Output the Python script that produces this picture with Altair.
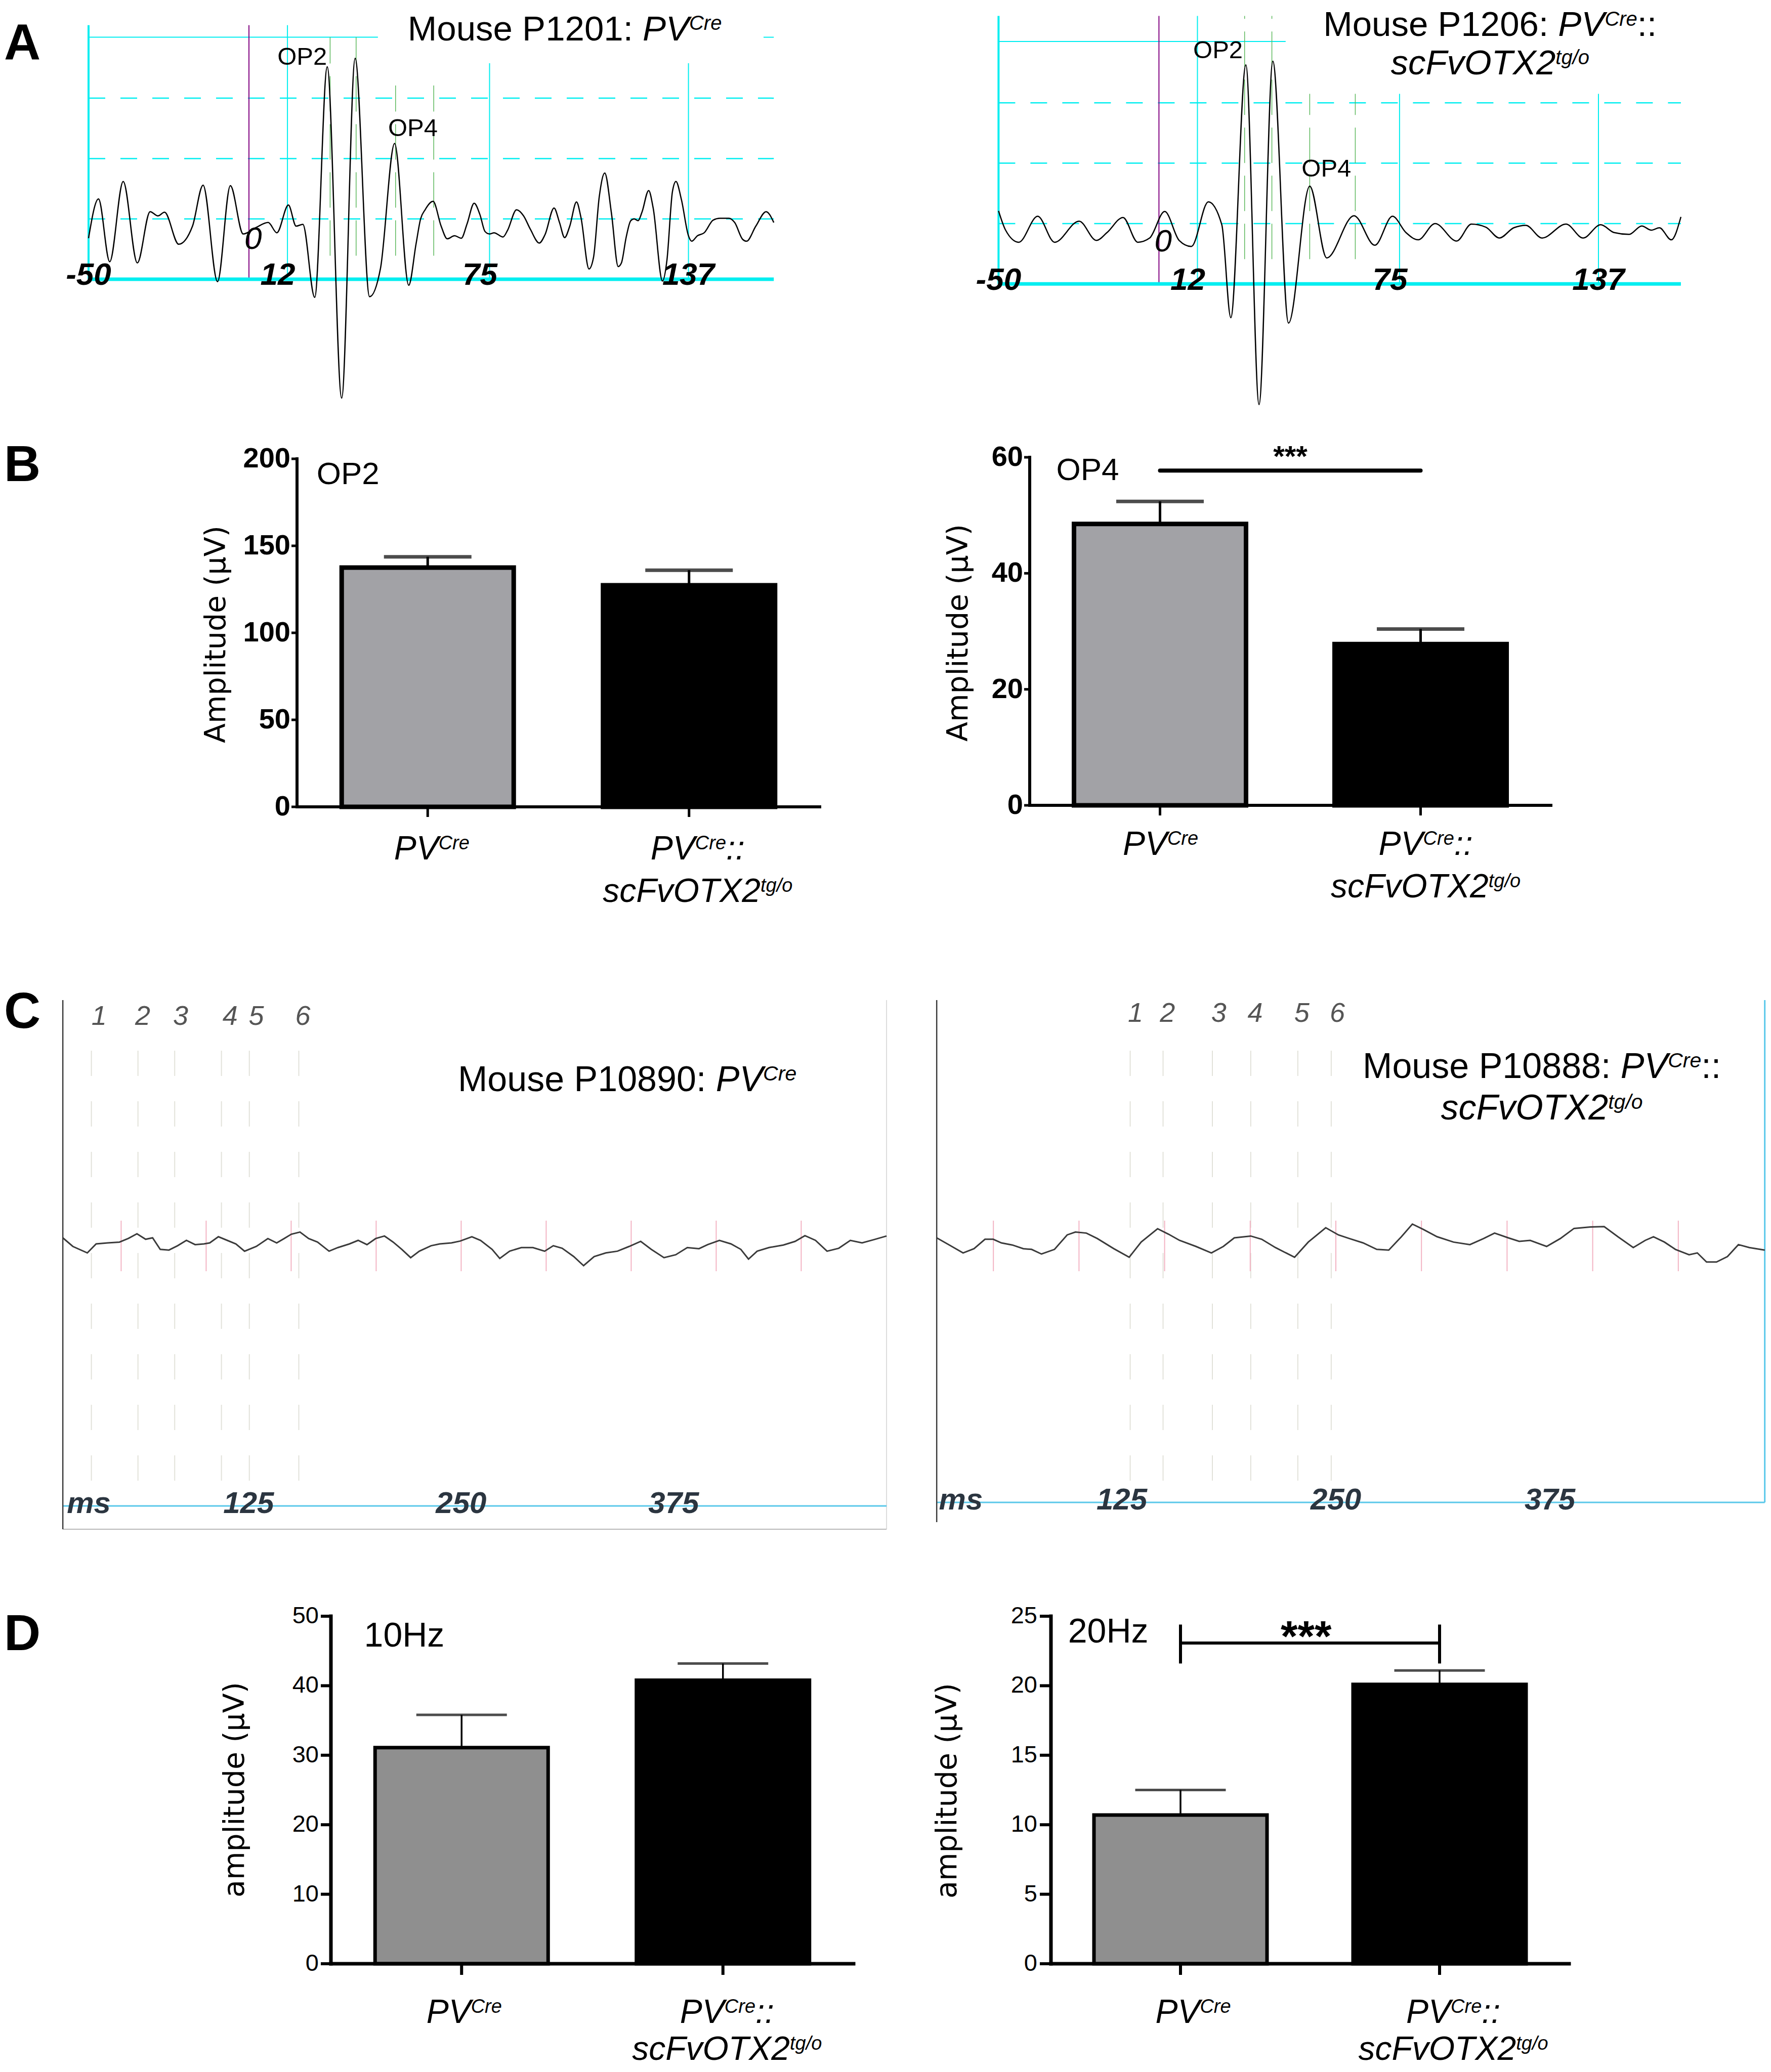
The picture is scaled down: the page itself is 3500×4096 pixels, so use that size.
import altair as alt
import pandas as pd

# ------------------------------------------------------------------ fonts / colours
SANS = "Liberation Sans, Arial, Helvetica, sans-serif"
NARROW = "Liberation Sans Narrow, Arial Narrow, Liberation Sans, sans-serif"
WIDE = "DejaVu Sans, Verdana, sans-serif"
CYAN = "#00eef0"
LIGHTBLUE = "#5ac8ea"

# ------------------------------------------------------------------ data
# A : ERG traces (time in ms, amplitude in grid units: dashed lines = 100, 200, 300)
A1_TRACE = [(-50.0, 68), (-46.9, 133), (-43.4, 29), (-39.2, 162), (-34.8, 27), (-30.8, 112), (-28.4, 105),
            (-26.3, 111), (-21.9, 58), (-17.6, 88), (-14.3, 156), (-9.8, -4), (-5.8, 155), (-1.8, 75), (2.3, 86),
            (6.0, 94), (8.7, 77), (12.3, 123), (14.7, 88), (16.8, 91), (20.5, -30), (24.4, 352), (28.9, -197),
            (33.1, 366), (37.6, -29), (41.0, 18), (45.4, 225), (49.8, -10), (52.1, 59), (53.5, 100), (54.9, 115),
            (57.4, 129), (59.9, 88), (61.8, 67), (64.1, 72), (66.2, 68), (68.0, 92), (70.2, 126), (72.0, 107),
            (73.6, 79), (75.0, 75), (76.4, 77), (79.2, 70), (80.6, 81), (83.4, 115), (85.6, 105), (87.7, 83),
            (90.5, 60), (92.3, 74), (95.1, 118), (96.8, 94), (98.4, 69), (100.0, 88), (102.1, 128), (103.5, 102),
            (106.0, 17), (107.4, 36), (109.2, 137), (110.9, 176), (113.0, 109), (115.1, 21), (116.1, 27),
            (117.6, 70), (119.0, 97), (120.1, 100), (121.3, 97), (122.5, 111), (124.6, 147), (126.0, 118),
            (128.9, -3), (130.3, 32), (132.0, 145), (133.1, 162), (134.8, 132), (137.0, 72), (138.0, 63),
            (139.8, 72), (141.9, 77), (144.7, 98), (146.8, 101), (149.6, 101), (151.4, 94), (153.9, 66),
            (155.1, 63), (158.0, 88), (161.2, 112), (163.6, 94)]
A2_TRACE = [(-50.0, 121), (-47.8, 89), (-43.7, 69), (-37.8, 112), (-32.5, 69), (-24.9, 104), (-19.5, 72),
            (-16.2, 85), (-11.2, 110), (-6.6, 69), (-2.9, 76), (1.8, 120), (6.3, 72), (10.1, 62), (15.4, 136),
            (19.6, 98), (22.4, -56), (27.1, 363), (31.2, -200), (35.5, 369), (40.4, -65), (47.0, 162), (52.3, 43),
            (60.8, 113), (67.3, 64), (72.8, 112), (77.0, 85), (80.8, 73), (86.1, 100), (92.8, 71), (97.4, 99),
            (101.9, 94), (106.1, 76), (110.6, 93), (114.4, 97), (119.4, 76), (126.9, 99), (132.2, 76),
            (137.7, 98), (141.9, 85), (146.5, 82), (150.5, 96), (153.5, 89), (156.0, 93), (159.7, 73),
            (162.7, 111)]
A_TICKS = [-50, 12, 75, 137]
A_TICK_LABELS = ["-50", "12", "75", "137"]
A_TICK_LABEL_POS = [-50, 9, 72, 137]
A_GRID = [100, 200, 300]
A1_OP_LINES = [25.3, 33.4, 45.7, 57.6]
A2_OP_LINES = [26.7, 35.2, 47.0, 61.2]

# B : oscillatory potential amplitudes (µV), mean and SEM
B_OP2_MEAN = [137.5, 127.3]
B_OP2_SEM = [6.2, 8.7]
B_OP4_MEAN = [48.5, 27.8]
B_OP4_SEM = [3.9, 2.6]
B_OP2_TICKS = [0, 50, 100, 150, 200]
B_OP4_TICKS = [0, 20, 40, 60]

# C : flicker traces (ms, µV)
C1_TRACE = [(15.7, 8.0), (21.6, -0.5), (30.1, -6.9), (35.3, 2.0), (42.1, 3.0), (49.0, 3.8), (54.1, 7.3),
            (59.3, 12.0), (64.4, 6.6), (68.5, 8.0), (73.0, -3.4), (78.1, -4.1), (83.2, 0.2), (88.4, 5.5),
            (93.5, 1.3), (98.7, 2.0), (102.1, 3.0), (107.2, 9.1), (112.4, 5.5), (117.5, 2.0), (122.6, -5.2),
            (129.5, -0.5), (136.3, 7.3), (141.5, 3.0), (145.9, 7.3), (150.1, 11.6), (155.2, 13.7), (160.3, 7.3),
            (165.5, 3.8), (172.3, -5.2), (177.5, -1.6), (184.3, 2.0), (189.4, 5.5), (194.6, 1.3), (199.7, 7.3),
            (204.9, 9.8), (210.0, 3.8), (215.1, -3.4), (220.3, -11.6), (225.4, -5.2), (232.3, 0.2), (237.4, 2.0),
            (244.3, 3.0), (249.4, 4.8), (256.3, 9.1), (261.4, 5.5), (268.2, -3.4), (272.7, -12.3), (278.5, -5.2),
            (285.4, -1.6), (292.2, -1.6), (299.1, -5.2), (304.2, 0.2), (309.4, -2.3), (316.2, -10.5),
            (322.0, -19.5), (328.2, -10.5), (335.1, -6.9), (341.9, -5.2), (348.8, -0.5), (355.6, 4.5),
            (361.8, -3.4), (369.3, -11.6), (376.2, -8.7), (383.0, -1.6), (389.9, -2.7), (395.0, 1.3),
            (401.9, 5.5), (408.7, 2.0), (414.5, -3.4), (419.0, -13.0), (424.1, -5.2), (431.0, -1.6),
            (439.5, 0.9), (446.4, 4.5), (452.2, 10.2), (458.4, 5.5), (465.2, -5.2), (472.1, -2.3), (478.9, 5.5),
            (485.8, 3.0), (492.7, 6.2), (500.2, 9.8)]
C2_TRACE = [(16.9, 8.0), (24.3, 0.9), (32.3, -6.9), (38.7, -2.7), (45.1, 6.6), (49.9, 6.6), (54.7, 3.0),
            (61.1, 0.9), (67.5, -2.7), (72.3, -3.4), (78.1, -8.0), (85.7, -3.4), (93.1, 10.9), (97.9, 13.7),
            (104.3, 12.7), (110.7, 7.3), (120.3, -2.7), (129.3, -11.2), (136.3, 3.8), (145.9, 17.0),
            (152.3, 11.6), (158.7, 5.5), (168.3, -0.5), (177.3, -6.9), (184.3, -0.5), (190.7, 8.0), (200.3, 9.8),
            (206.7, 6.6), (214.7, -1.6), (225.9, -11.2), (233.9, 3.8), (244.1, 18.0), (251.5, 10.9), (257.9, 7.3),
            (265.9, 3.0), (273.9, -3.4), (280.9, -4.1), (288.3, 9.1), (294.7, 21.6), (301.1, 16.3), (309.1, 9.1),
            (318.7, 3.8), (328.3, 1.3), (336.3, 7.3), (342.7, 12.7), (350.7, 8.0), (357.1, 4.5), (363.5, 5.5),
            (373.1, -0.5), (381.1, 7.3), (389.1, 17.3), (398.7, 18.7), (406.7, 19.1), (414.7, 9.1),
            (423.7, -1.6), (430.7, 5.5), (435.5, 9.1), (441.9, 3.8), (448.3, -3.4), (456.3, -8.7), (461.1, -6.9),
            (466.5, -15.9), (472.3, -15.9), (478.7, -10.5), (485.1, 1.3), (491.5, -1.6), (500.5, -4.1)]
C_TICK_POS = [31, 125, 250, 375]
C_TICK_LABELS = ["ms", "125", "250", "375"]
C_MARKS = [50, 100, 150, 200, 250, 300, 350, 400, 450]
STIM_LABELS = ["1", "2", "3", "4", "5", "6"]
C1_STIM = [32.5, 59.9, 81.5, 109.0, 125.4, 154.5]
C1_STIM_LABEL_POS = [37.0, 62.7, 85.0, 114.1, 129.5, 156.9]
C2_STIM = [129.9, 149.1, 177.9, 200.3, 227.8, 247.3]
C2_STIM_LABEL_POS = [133.0, 151.7, 181.7, 202.9, 230.1, 250.9]

# D : flicker amplitudes (µV), mean and SEM
D_10_MEAN = [31.1, 40.8]
D_10_SEM = [4.7, 2.4]
D_20_MEAN = [10.7, 20.1]
D_20_SEM = [1.8, 1.0]
D_10_TICKS = [0, 10, 20, 30, 40, 50]
D_20_TICKS = [0, 5, 10, 15, 20, 25]

# rich-text labels: (text, kind) with kind n = normal, i = italic, s = italic superscript
GROUP_LABELS = [
    [[("PV", "i"), ("Cre", "s")]],
    [[("PV", "i"), ("Cre", "s"), ("::", "i")], [("scFvOTX2", "i"), ("tg/o", "s")]],
]
A1_TITLE = [[("Mouse P1201: ", "n"), ("PV", "i"), ("Cre", "s")]]
A2_TITLE = [[("Mouse P1206: ", "n"), ("PV", "i"), ("Cre", "s"), ("::", "n")],
            [("scFvOTX2", "i"), ("tg/o", "s")]]
C1_TITLE = [[("Mouse P10890: ", "n"), ("PV", "i"), ("Cre", "s")]]
C2_TITLE = [[("Mouse P10888: ", "n"), ("PV", "i"), ("Cre", "s"), ("::", "n")],
            [("scFvOTX2", "i"), ("tg/o", "s")]]

# ------------------------------------------------------------------ helpers
AW = {' ': 278, ':': 278, '/': 278, '*': 389, '-': 333, '(': 333, ')': 333,
      'C': 722, 'F': 611, 'M': 833, 'O': 778, 'P': 667, 'T': 611, 'V': 667, 'X': 667, 'H': 722,
      'c': 500, 'e': 556, 'g': 556, 'o': 556, 'r': 333, 's': 500, 't': 278, 'u': 556, 'v': 500, 'z': 500}


def text_w(s, size):
    return sum(AW.get(ch, 556) for ch in s) * size / 1000.0


def lin(v0, p0, v1, p1, origin):
    return alt.Scale(domain=[v0, v1], range=[p0 - origin, p1 - origin], nice=False, zero=False)


def XY(sx, sy, xf="x", yf="y"):
    return dict(x=alt.X(f"{xf}:Q", scale=sx, axis=None), y=alt.Y(f"{yf}:Q", scale=sy, axis=None))


def vrule(sx, sy, xs, y1, y2, **mk):
    n = len(xs)
    df = pd.DataFrame({"x": xs, "y1": y1 if isinstance(y1, list) else [y1] * n,
                       "y2": y2 if isinstance(y2, list) else [y2] * n})
    return alt.Chart(df).mark_rule(clip=True, **mk).encode(
        x=alt.X("x:Q", scale=sx, axis=None), y=alt.Y("y1:Q", scale=sy, axis=None), y2="y2:Q")


def hrule(sx, sy, ys, x1, x2, **mk):
    n = len(ys)
    df = pd.DataFrame({"y": ys, "x1": x1 if isinstance(x1, list) else [x1] * n,
                       "x2": x2 if isinstance(x2, list) else [x2] * n})
    return alt.Chart(df).mark_rule(clip=True, **mk).encode(
        x=alt.X("x1:Q", scale=sx, axis=None), x2="x2:Q", y=alt.Y("y:Q", scale=sy, axis=None))


def texts(sx, sy, xs, ys, labels, **mk):
    n = len(labels)
    df = pd.DataFrame({"x": xs if isinstance(xs, list) else [xs] * n,
                       "y": ys if isinstance(ys, list) else [ys] * n, "t": labels})
    return alt.Chart(df).mark_text(clip=True, **mk).encode(text="t:N", **XY(sx, sy))


def rich(sx, sy, x, y, lines, size, anchor="left", dx0=0.0, dy0=0.0, gap=84, color="black", font=SANS):
    df = pd.DataFrame({"x": [x], "y": [y]})
    sup = round(size * 0.58)
    rise = 0.716 * (size - sup)
    out = []
    for li, segs in enumerate(lines):
        sizes = [sup if k == "s" else size for _, k in segs]
        widths = [text_w(t, s) for (t, _), s in zip(segs, sizes)]
        total = sum(widths)
        cur = dx0 - {"left": 0.0, "center": total / 2.0, "right": total}[anchor]
        for (t, k), s, w in zip(segs, sizes, widths):
            out.append(alt.Chart(df).mark_text(
                text=t, align="left", baseline="alphabetic", font=font, fontSize=s,
                fontStyle="italic" if k in ("i", "s") else "normal", color=color,
                dx=round(cur, 1), dy=round(dy0 + li * gap - (rise if k == "s" else 0.0), 1), clip=True,
            ).encode(**XY(sx, sy)))
            cur += w
    return out


def letter(ch, y):
    return alt.Chart(pd.DataFrame({"t": [ch]})).mark_text(
        align="left", baseline="alphabetic", font=SANS, fontSize=100, fontWeight="bold", color="black"
    ).encode(text="t:N", x=alt.value(0), y=alt.value(y))


# ------------------------------------------------------------------ panel A
def panel_A(X0, Y0, W, H, sx, sy, trace, vtops, ptop, top_segs, top_y, x_end, ops, op_bot, op_tops,
            op2_xy, op4_xy, zero_xy, title, title_xy, anchor, title_gap=84, let=None):
    L = []
    L.append(hrule(sx, sy, A_GRID, -50, x_end, color=CYAN, strokeWidth=2.5, strokeDash=[33, 30]))
    L.append(hrule(sx, sy, [top_y] * len(top_segs), [a for a, _ in top_segs], [b for _, b in top_segs],
                   color=CYAN, strokeWidth=2))
    L.append(vrule(sx, sy, A_TICKS[1:], 0, vtops[1:], color=CYAN, strokeWidth=2))
    L.append(vrule(sx, sy, A_TICKS[:1], 0, vtops[:1], color=CYAN, strokeWidth=4))
    L.append(vrule(sx, sy, ops, op_bot, op_tops, color="#5cb85c", strokeWidth=1.5, strokeDash=[70, 25]))
    L.append(vrule(sx, sy, [0], 0, ptop, color="#800080", strokeWidth=2))
    L.append(hrule(sx, sy, [0], -50, x_end, color=CYAN, strokeWidth=7))
    L.append(alt.Chart(pd.DataFrame(trace, columns=["x", "y"])).mark_line(
        color="black", strokeWidth=2.5, interpolate="monotone", clip=True).encode(**XY(sx, sy)))
    L.append(texts(sx, sy, [op2_xy[0], op4_xy[0]], [op2_xy[1], op4_xy[1]], ["OP2", "OP4"],
                   font=SANS, fontSize=49, align="center", baseline="alphabetic", color="black"))
    L.append(texts(sx, sy, [zero_xy[0]], [zero_xy[1]], ["0"], font=SANS, fontSize=62, fontStyle="italic",
                   align="center", baseline="alphabetic", color="black"))
    L.append(texts(sx, sy, A_TICK_LABEL_POS, -9.5, A_TICK_LABELS, font=SANS, fontSize=62, fontStyle="italic",
                   fontWeight="bold", align="center", baseline="alphabetic", color="black"))
    L += rich(sx, sy, title_xy[0], title_xy[1], title, 69, anchor=anchor, gap=title_gap)
    if let:
        L.append(letter(*let))
    return alt.layer(*L).properties(width=W, height=H)


# ------------------------------------------------------------------ panel B / D (bar charts)
def panel_bar(X0, Y0, W, H, x_left, x_right, y_zero, y_top, top_val, ticks, means, sems, gray, bstroke,
              bar_w, cap_w, cap_t, whisk, axw, ytick, xtick, lab_font, lab_size, lab_weight, lab_pad,
              ytitle, ytitle_xy, ptitle, ptitle_xy, ptitle_size, label_dy, label_shift, extra=None, let=None):
    sx = lin(-0.5, x_left, 1.5, x_right, X0)
    sy = lin(0, y_zero, top_val, y_top, Y0)
    df = pd.DataFrame({"idx": [0, 1], "mean": means, "upper": [m + s for m, s in zip(means, sems)],
                       "fill": [gray, "black"]})
    L = []
    L.append(alt.Chart(df).mark_bar(width=bar_w, stroke="black", strokeWidth=bstroke).encode(
        x=alt.X("idx:Q", scale=sx, axis=None), y=alt.Y("mean:Q", scale=sy, axis=None), y2=alt.datum(0),
        fill=alt.Fill("fill:N", scale=None)))
    L.append(alt.Chart(df).mark_rule(color="black", strokeWidth=whisk).encode(
        x=alt.X("idx:Q", scale=sx, axis=None), y=alt.Y("mean:Q", scale=sy, axis=None), y2="upper:Q"))
    L.append(alt.Chart(df).mark_tick(orient="horizontal", size=cap_w, thickness=cap_t, color="black").encode(
        x=alt.X("idx:Q", scale=sx, axis=None), y=alt.Y("upper:Q", scale=sy, axis=None)))
    # axes: domain lines, ticks, tick labels, title
    L.append(vrule(sx, sy, [-0.5], 0, top_val, color="black", strokeWidth=axw, strokeCap="square"))
    L.append(hrule(sx, sy, [0], -0.5, 1.5, color="black", strokeWidth=axw, strokeCap="square"))
    L.append(hrule(sx, sy, ticks, -0.5, -0.5, color="black", strokeWidth=axw - 1, x2Offset=-ytick))
    L.append(vrule(sx, sy, [0, 1], 0, 0, color="black", strokeWidth=axw - 1, y2Offset=xtick))
    L.append(texts(sx, sy, -0.5, ticks, [str(t) for t in ticks], font=lab_font, fontSize=lab_size,
                   fontWeight=lab_weight, align="right", baseline="middle", dx=-(ytick + lab_pad), color="black"))
    L.append(alt.Chart(pd.DataFrame({"t": [ytitle]})).mark_text(
        font=WIDE, fontSize=57, angle=270, align="center", baseline="middle", color="black").encode(
        text="t:N", x=alt.value(ytitle_xy[0] - X0), y=alt.value(ytitle_xy[1] - Y0)))
    L.append(texts(sx, sy, [ptitle_xy[0]], [ptitle_xy[1]], [ptitle], font=SANS, fontSize=ptitle_size,
                   align="left", baseline="alphabetic", color="black"))
    for i, lines in enumerate(GROUP_LABELS):
        L += rich(sx, sy, i, 0, lines, 66, anchor="center", dx0=label_shift[i], dy0=label_dy[0],
                  gap=label_dy[1] - label_dy[0])
    if extra:
        L += extra(sx, sy)
    if let:
        L.append(letter(*let))
    return alt.layer(*L).properties(width=W, height=H)


# ------------------------------------------------------------------ panel C (flicker traces)
def panel_C(X0, Y0, W, H, sx, sy, trace, x_lo, x_hi, frame_bot, cyan_y, stim, stim_pos, stim_y, tick_y,
            title, title_xy, anchor, right_cyan, let=None):
    L = []
    L.append(vrule(sx, sy, stim, -232, 203.5, color="#e2e2da", strokeWidth=2, strokeDash=[50, 50]))
    L.append(vrule(sx, sy, C_MARKS, -25, 25, color="#f3b3c3", strokeWidth=2))
    if right_cyan:
        L.append(vrule(sx, sy, [x_hi], cyan_y, 243, color=LIGHTBLUE, strokeWidth=3))
    else:
        L.append(vrule(sx, sy, [x_hi], frame_bot, 243, color="#dcdcdc", strokeWidth=2))
        L.append(hrule(sx, sy, [frame_bot], x_lo, x_hi, color="#b8b8b8", strokeWidth=2))
    L.append(hrule(sx, sy, [cyan_y], x_lo, x_hi, color=LIGHTBLUE, strokeWidth=3))
    L.append(vrule(sx, sy, [x_lo], frame_bot, 243, color="#3a3a3a", strokeWidth=2.5))
    L.append(alt.Chart(pd.DataFrame(trace, columns=["x", "y"])).mark_line(
        color="#3a3a3a", strokeWidth=3, clip=True).encode(**XY(sx, sy)))
    L.append(texts(sx, sy, stim_pos, stim_y, STIM_LABELS, font=SANS, fontSize=54, fontStyle="italic",
                   align="center", baseline="alphabetic", color="#555555"))
    L.append(texts(sx, sy, C_TICK_POS, tick_y, C_TICK_LABELS, font=SANS, fontSize=60, fontStyle="italic",
                   fontWeight="bold", align="center", baseline="alphabetic", color="#2b3540"))
    L += rich(sx, sy, title_xy[0], title_xy[1], title, 70, anchor=anchor, gap=82)
    if let:
        L.append(letter(*let))
    return alt.layer(*L).properties(width=W, height=H)


# ------------------------------------------------------------------ layout (cells)
LX, LW = 8, 1792
RX, RW = 1800, 1690
AY, AH = 8, 830
BY, BH = 838, 1070
CY, CH = 1908, 1180
DY, DH = 3088, 998

a_left = panel_A(LX, AY, LW, AH, lin(-50, 175, 137, 1360.6, LX), lin(0, 552, 400, 74.8, AY), A1_TRACE,
                 [421, 421, 358, 358], 421, [(-50, 40.2), (160.4, 163.6)], 401, 163.6,
                 A1_OP_LINES, 39, [401, 401, 321, 321], (16.6, 355), (51.1, 237), (1.3, 50),
                 A1_TITLE, (49.5, 396), "left", let=("A", 110))
a_right = panel_A(RX, AY, RW, AH, lin(-50, 1973.4, 137, 3159, RX), lin(0, 561.2, 400, 84, AY), A2_TRACE,
                  [444, 444, 315, 315], 444, [(-50, 39.5)], 401.7, 162.7,
                  A2_OP_LINES, 41, [444, 444, 315, 315], (18.4, 374), (52.2, 178), (1.3, 54),
                  A2_TITLE, (103.2, 410.5), "center", title_gap=76)


def sig_b(sx, sy):
    return [hrule(sx, sy, [57.7], 0, 1, color="black", strokeWidth=8, strokeCap="round"),
            texts(sx, sy, [0.5], [58.4], ["***"], font=SANS, fontSize=58, fontWeight="bold",
                  align="center", baseline="alphabetic", color="black")]


def sig_d(sx, sy):
    return [hrule(sx, sy, [23.07], 0, 1, color="black", strokeWidth=6),
            vrule(sx, sy, [0, 1], 21.6, 24.4, color="black", strokeWidth=6),
            texts(sx, sy, [0.485], [22.5], ["***"], font=SANS, fontSize=86, fontWeight="bold",
                  align="center", baseline="alphabetic", color="black")]


b_left = panel_bar(LX, BY, LW, BH, 582, 1625, 1595, 907, 200, B_OP2_TICKS, B_OP2_MEAN, B_OP2_SEM, "#a2a2a6",
                   9, 340, 173, 7, 5, 6, 11, 20, NARROW, 56, "bold", 2, "Amplitude (µV)", (428, 1254),
                   "OP2", (-0.425, 185.5), 62, (104, 188), (8, 17), let=("B", 113))
b_right = panel_bar(RX, BY, RW, BH, 2030, 3070, 1592, 904, 60, B_OP4_TICKS, B_OP4_MEAN, B_OP4_SEM, "#a2a2a6",
                    9, 340, 173, 7, 5, 6, 11, 20, NARROW, 56, "bold", 2, "Amplitude (µV)", (1895, 1251),
                    "OP4", (-0.398, 56.1), 62, (98, 182), (1, 10), extra=sig_b)

c_left = panel_C(LX, CY, LW, CH, lin(0, 71.4, 500, 1751.4, LX), lin(0, 2463, 100, 2263, CY), C1_TRACE,
                 15.7, 500.2, -280, -257, C1_STIM, C1_STIM_LABEL_POS, 218.5, -264,
                 C1_TITLE, (248.1, 153), "left", False, let=("C", 124))
c_right = panel_C(RX, CY, RW, CH, lin(0, 1794, 500, 3486, RX), lin(0, 2463, 100, 2263, CY), C2_TRACE,
                  16.9, 500.5, -273, -253.5, C2_STIM, C2_STIM_LABEL_POS, 221.5, -260.5,
                  C2_TITLE, (370.3, 166), "center", True)

d_left = panel_bar(LX, DY, LW, DH, 649, 1692, 3882, 3195, 50, D_10_TICKS, D_10_MEAN, D_10_SEM, "#8f8f8f",
                   7, 342, 179, 5, 3.5, 7, 20, 22, SANS, 47, "normal", 4, "amplitude (µV)", (465, 3538),
                   "10Hz", (-0.373, 45.6), 68, (117, 190), (5, 8), let=("D", 174))
d_right = panel_bar(RX, DY, RW, DH, 2072, 3106, 3882, 3195, 25, D_20_TICKS, D_20_MEAN, D_20_SEM, "#8f8f8f",
                    7, 342, 179, 5, 3.5, 7, 22, 22, SANS, 47, "normal", 5, "amplitude (µV)", (1873, 3540),
                    "20Hz", (-0.434, 23.1), 68, (117, 190), (25, 27), extra=sig_d)

chart = alt.vconcat(
    alt.hconcat(a_left, a_right, spacing=0),
    alt.hconcat(b_left, b_right, spacing=0),
    alt.hconcat(c_left, c_right, spacing=0),
    alt.hconcat(d_left, d_right, spacing=0),
    spacing=0, padding=0, background="white",
).configure_view(stroke=None)

chart.save("out.html", embed_options={"renderer": "svg", "actions": False})
